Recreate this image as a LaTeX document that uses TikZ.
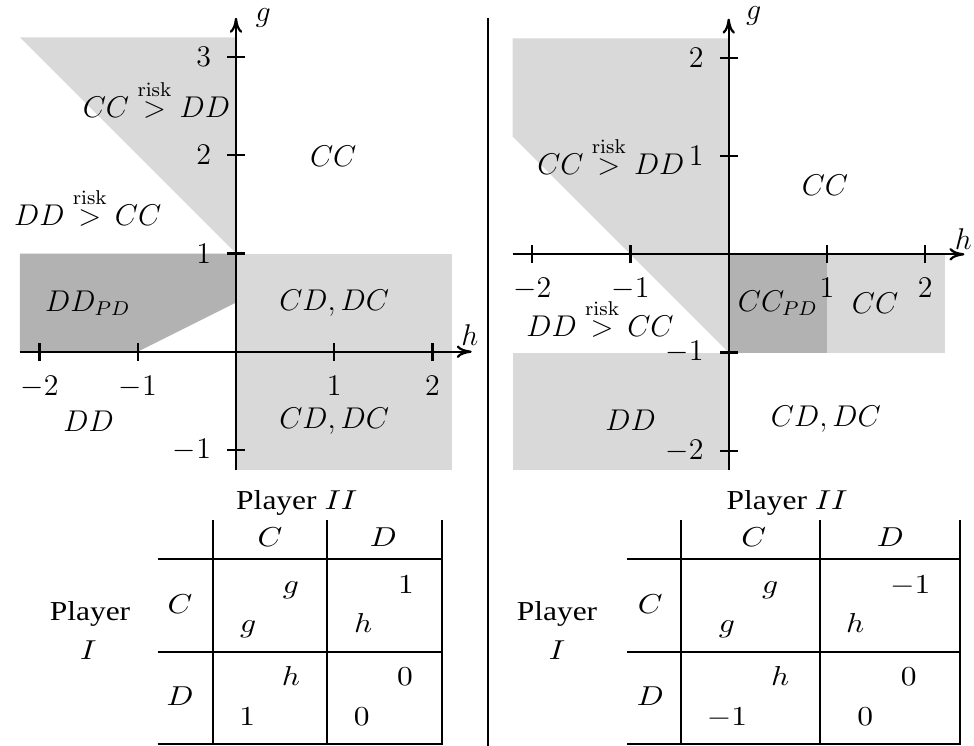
\documentclass[tikz,border=0pt]{standalone}
\usepackage[no-math]{fontspec}
\setmainfont{Liberation Serif}
\usetikzlibrary{arrows.meta}
\definecolor{lightg}{gray}{0.85}
\definecolor{darkg}{gray}{0.70}
\newcommand{\tabwide}[1]{\scalebox{1.15}[1]{#1}}
\begin{document}
\begin{tikzpicture}[x=0.4pt,y=-0.4pt,line width=0.8pt,
  lbl/.style={font=\fontsize{12}{15}\selectfont,anchor=base,inner sep=0},
  tk/.style={font=\fontsize{12}{15}\selectfont,inner sep=0},
  tab/.style={font=\fontsize{10.95}{13}\selectfont,anchor=base,inner sep=0},
  axis/.style={line width=0.9pt,-{Computer Modern Rightarrow[length=6pt,width=5pt]}},
  tick/.style={line width=0.9pt}]
\useasboundingbox (0,0) rectangle (974,746);

% ---------- left plot ----------
\begin{scope}[shift={(94.4pt,-140.68pt)},x=39.28pt,y=39.28pt]
  \fill[lightg] (-2.2,3.2) -- (0,3.2) -- (0,1) -- cycle;
  \fill[darkg] (-2.2,0) -- (-1,0) -- (0,0.5) -- (0,1) -- (-2.2,1) -- cycle;
  \fill[lightg] (0,-1.2) rectangle (2.2,1);
  \draw[axis] (-2.2,0) -- (2.4,0);
  \draw[axis] (0,-1.2) -- (0,3.4);
  \foreach \t in {-2,-1,1,2}{
    \draw[tick] (\t,-0.09) -- (\t,0.09);
    \node[tk,anchor=north] (lhx\t) at (\t,-0.237) {$\t$};
  }
  \foreach \t in {-1,1,2,3}{
    \draw[tick] (-0.09,\t) -- (0.09,\t);
    \node[tk,anchor=east] (lgy\t) at (-0.245,\t) {$\t$};
  }
  \node[tk] (lg) at (0.278,3.40) {$g$};
  \node[tk] (lh) at (2.38,0.17) {$h$};
  \node[lbl] (l1) at (-0.81,2.39) {$CC \stackrel{\mathrm{risk}}{>} DD$};
  \node[lbl] (l2) at (-1.51,1.29) {$DD \stackrel{\mathrm{risk}}{>} CC$};
  \node[lbl] (l3) at (0.99,1.89) {$CC$};
  \node[lbl] (l4) at (1,0.42) {$CD,DC$};
  \node[lbl] (l5) at (1,-0.78) {$CD,DC$};
  \node[lbl] (l6) at (-1.51,0.41) {$DD_{PD}$};
  \node[lbl] (l7) at (-1.5,-0.81) {$DD$};
\end{scope}

% ---------- right plot ----------
\begin{scope}[shift={(291.48pt,-101.72pt)},x=39.28pt,y=39.28pt]
  \fill[lightg] (-2.2,2.2) -- (0,2.2) -- (0,-1) -- (-2.2,1.2) -- cycle;
  \fill[lightg] (-2.2,-2.2) rectangle (0,-1);
  \fill[darkg] (0,-1) rectangle (1,0);
  \fill[lightg] (1,-1) rectangle (2.2,0);
  \draw[axis] (-2.2,0) -- (2.4,0);
  \draw[axis] (0,-2.2) -- (0,2.4);
  \foreach \t in {-2,-1,1,2}{
    \draw[tick] (\t,-0.09) -- (\t,0.09);
    \node[tk,anchor=north] (rhx\t) at (\t,-0.237) {$\t$};
    \draw[tick] (-0.09,\t) -- (0.09,\t);
    \node[tk,anchor=east] (rgy\t) at (-0.245,\t) {$\t$};
  }
  \node[tk] (rg) at (0.255,2.43) {$g$};
  \node[tk] (rh) at (2.39,0.16) {$h$};
  \node[lbl] (r1) at (-1.2,0.81) {$CC \stackrel{\mathrm{risk}}{>} DD$};
  \node[lbl] (r2) at (0.98,0.6) {$CC$};
  \node[lbl] (r3) at (0.5,-0.58) {$CC_{PD}$};
  \node[lbl] (r4) at (1.49,-0.6) {$CC$};
  \node[lbl] (r5) at (-1.31,-0.84) {$DD \stackrel{\mathrm{risk}}{>} CC$};
  \node[lbl] (r6) at (-1.0,-1.79) {$DD$};
  \node[lbl] (r7) at (0.99,-1.75) {$CD,DC$};
\end{scope}

% separator
\draw (488,18) -- (488,746);

% ---------- left table ----------
\foreach \xx in {212.7,326.7,442.3} \draw (\xx,520) -- (\xx,745);
\foreach \yy in {559.3,652.3,744.3} \draw (157.7,\yy) -- (442.3,\yy);
\node[tab] (lp2) at (296.7,509.3) {\tabwide{Player $II$}};
\node[tab] (lcC) at (270,546.7) {\tabwide{$C$}};
\node[tab] (lcD) at (383.3,546.7) {\tabwide{$D$}};
\node[tab] (lrC) at (180,613.3) {\tabwide{$C$}};
\node[tab] (lrD) at (180,705.7) {\tabwide{$D$}};
\node[tab] (lp1a) at (90,620.7) {\tabwide{Player}};
\node[tab] (lp1b) at (88.3,659) {\tabwide{$I$}};
\node[tab] (la1) at (291,593.3) {\tabwide{$g$}};
\node[tab] (la2) at (248.3,632) {\tabwide{$g$}};
\node[tab] (lb1) at (406,593.3) {\tabwide{$1$}};
\node[tab] (lb2) at (363.3,632) {\tabwide{$h$}};
\node[tab] (lc1) at (291,685) {\tabwide{$h$}};
\node[tab] (lc2) at (247.3,725) {\tabwide{$1$}};
\node[tab] (ld1) at (405,685) {\tabwide{$0$}};
\node[tab] (ld2) at (361.7,725) {\tabwide{$0$}};

% ---------- right table ----------
\foreach \xx in {681,820.3,959.7} \draw (\xx,520) -- (\xx,745);
\foreach \yy in {559.3,652.3,744.3} \draw (627,\yy) -- (959.7,\yy);
\node[tab] (rp2) at (787,509.3) {\tabwide{Player $II$}};
\node[tab] (rcC) at (753.7,546.7) {\tabwide{$C$}};
\node[tab] (rcD) at (890.3,546.7) {\tabwide{$D$}};
\node[tab] (rrC) at (650.3,613.3) {\tabwide{$C$}};
\node[tab] (rrD) at (650.3,705.7) {\tabwide{$D$}};
\node[tab] (rp1a) at (557,620.7) {\tabwide{Player}};
\node[tab] (rp1b) at (557,659) {\tabwide{$I$}};
\node[tab] (ra1) at (770.3,593.3) {\tabwide{$g$}};
\node[tab] (ra2) at (727,632) {\tabwide{$g$}};
\node[tab] (rb1) at (910.3,593.3) {\tabwide{$-1$}};
\node[tab] (rb2) at (855.3,632) {\tabwide{$h$}};
\node[tab] (rc1) at (780.3,685) {\tabwide{$h$}};
\node[tab] (rc2) at (727,725) {\tabwide{$-1$}};
\node[tab] (rd1) at (908.7,685) {\tabwide{$0$}};
\node[tab] (rd2) at (865.3,725) {\tabwide{$0$}};
\end{tikzpicture}
\end{document}
